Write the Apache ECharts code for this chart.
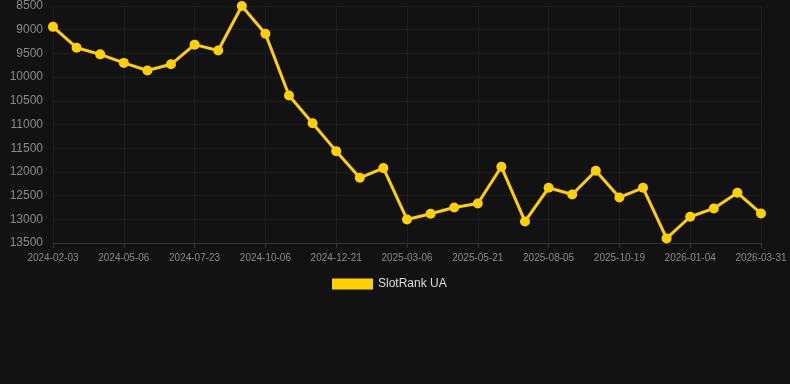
<!DOCTYPE html>
<html>
<head>
<meta charset="utf-8">
<script src="https://cdn.jsdelivr.net/npm/echarts@6/dist/echarts.min.js"></script>
<style>
html,body{margin:0;padding:0;background:#121212;}
#c{width:790px;height:384px;}
</style>
</head>
<body>
<div id="c"></div>
<script>
const categories = [
  '2024-02-03','2024-03-05','2024-04-05','2024-05-06','2024-06-01','2024-06-27',
  '2024-07-23','2024-08-17','2024-09-11','2024-10-06','2024-10-31','2024-11-25',
  '2024-12-21','2025-01-15','2025-02-09','2025-03-06','2025-03-31','2025-04-25',
  '2025-05-21','2025-06-15','2025-07-10','2025-08-05','2025-08-30','2025-09-24',
  '2025-10-19','2025-11-14','2025-12-09','2026-01-04','2026-02-01','2026-03-02',
  '2026-03-31'
];
const rankValues = [
  8940, 9380, 9520, 9700, 9860, 9730,
  9315, 9440, 8500, 9085, 10390, 10972,
  11562, 12124, 11920, 13003, 12883, 12750,
  12666, 11892, 13045, 12335, 12476, 11977,
  12539, 12335, 13403, 12946, 12771, 12440,
  12876
];
const seriesName = 'SlotRank UA';
const yMin = 8500, yMax = 13500, yStep = 500;

const chart = echarts.init(document.getElementById('c'), null, {renderer:'canvas'});
chart.setOption({
  backgroundColor: '#121212',
  animation: false,
  grid: {left: 53, right: 29, top: 6, bottom: 141},
  legend: {
    data: [seriesName],
    top: 278,
    left: 332,
    icon: 'rect',
    itemWidth: 41,
    itemHeight: 11,
    itemGap: 10,
    padding: 0,
    textStyle: {color: '#dddddd', fontSize: 12, fontFamily: 'Liberation Sans, Arial, sans-serif'}
  },
  xAxis: {
    type: 'category',
    data: categories,
    boundaryGap: false,
    axisLine: {show: true, lineStyle: {color: '#333333'}},
    axisTick: {show: true, interval: 2, lineStyle: {color: '#333333'}},
    axisLabel: {interval: 2, color: '#8a8a8a', fontSize: 10, margin: 10, fontFamily: 'Liberation Sans, Arial, sans-serif'},
    splitLine: {show: true, interval: 2, lineStyle: {color: '#1e1e1e'}}
  },
  yAxis: {
    type: 'value',
    inverse: true,
    min: yMin,
    max: yMax,
    interval: yStep,
    axisLine: {show: false},
    axisTick: {show: false},
    axisLabel: {color: '#8a8a8a', fontSize: 12, margin: 10, formatter: function (v) { return String(v); }, fontFamily: 'Liberation Sans, Arial, sans-serif'},
    splitLine: {show: true, lineStyle: {color: '#1e1e1e'}}
  },
  series: [{
    name: seriesName,
    type: 'line',
    data: rankValues,
    color: '#FFD000',
    symbol: 'circle',
    symbolSize: 10,
    lineStyle: {width: 3, color: '#FFD000'},
    itemStyle: {color: '#FFD000'}
  }]
});
</script>
</body>
</html>
